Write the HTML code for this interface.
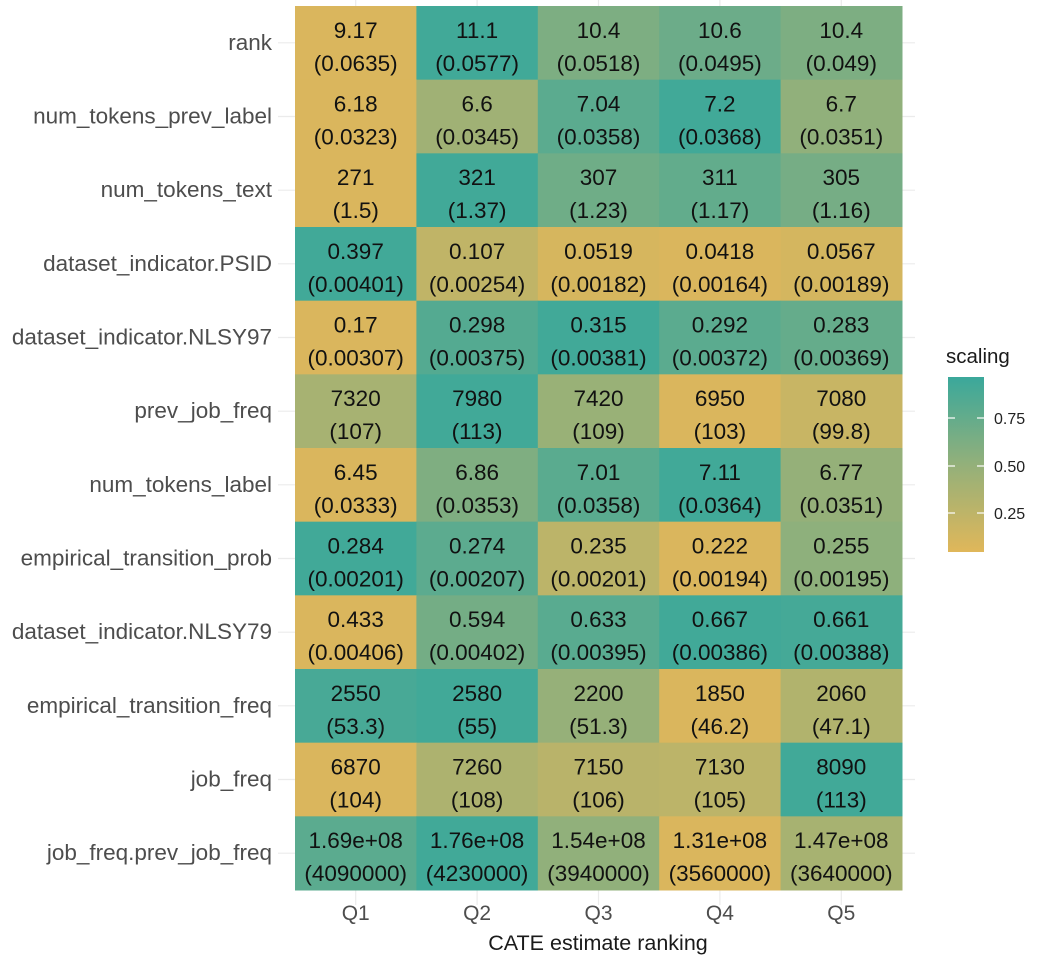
<!DOCTYPE html>
<html><head><meta charset="utf-8"><style>
body{margin:0;background:#fff;font-family:"Liberation Sans",sans-serif}
</style></head><body>
<svg id="c" width="1038" height="964" xmlns="http://www.w3.org/2000/svg" font-family="Liberation Sans, sans-serif">
<defs><linearGradient id="lg" x1="0" y1="1" x2="0" y2="0">
<stop offset="0" stop-color="#e0b75a"/><stop offset="0.5" stop-color="#93b07a"/><stop offset="1" stop-color="#3aa89b"/></linearGradient></defs>
<g id="grid"></g><g id="cells"></g><g id="labels"></g>
<g>
<text x="946" y="363" font-size="20.5" fill="#1a1a1a">scaling</text>
<rect x="948" y="377" width="36" height="175" fill="url(#lg)"/>
<g stroke="#fff" stroke-width="1.2"><line x1="948" x2="955" y1="418" y2="418"/><line x1="977" x2="984" y1="418" y2="418"/><line x1="948" x2="955" y1="466" y2="466"/><line x1="977" x2="984" y1="466" y2="466"/><line x1="948" x2="955" y1="513" y2="513"/><line x1="977" x2="984" y1="513" y2="513"/></g>
<g font-size="16" fill="#222"><text x="994" y="424">0.75</text><text x="994" y="472">0.50</text><text x="994" y="519">0.25</text></g>
</g>
<text x="598" y="950" font-size="21.5" text-anchor="middle" fill="#1a1a1a">CATE estimate ranking</text>
</svg>
<script>
const categories=["Q1","Q2","Q3","Q4","Q5"];
const rowLabels=["rank","num_tokens_prev_label","num_tokens_text","dataset_indicator.PSID","dataset_indicator.NLSY97","prev_job_freq","num_tokens_label","empirical_transition_prob","dataset_indicator.NLSY79","empirical_transition_freq","job_freq","job_freq.prev_job_freq"];
const values=[[9.17,11.1,10.4,10.6,10.4],[6.18,6.6,7.04,7.2,6.7],[271,321,307,311,305],[0.397,0.107,0.0519,0.0418,0.0567],[0.17,0.298,0.315,0.292,0.283],[7320,7980,7420,6950,7080],[6.45,6.86,7.01,7.11,6.77],[0.284,0.274,0.235,0.222,0.255],[0.433,0.594,0.633,0.667,0.661],[2550,2580,2200,1850,2060],[6870,7260,7150,7130,8090],[1.69e8,1.76e8,1.54e8,1.31e8,1.47e8]];
const valueText=[["9.17","11.1","10.4","10.6","10.4"],["6.18","6.6","7.04","7.2","6.7"],["271","321","307","311","305"],["0.397","0.107","0.0519","0.0418","0.0567"],["0.17","0.298","0.315","0.292","0.283"],["7320","7980","7420","6950","7080"],["6.45","6.86","7.01","7.11","6.77"],["0.284","0.274","0.235","0.222","0.255"],["0.433","0.594","0.633","0.667","0.661"],["2550","2580","2200","1850","2060"],["6870","7260","7150","7130","8090"],["1.69e+08","1.76e+08","1.54e+08","1.31e+08","1.47e+08"]];
const seText=[["(0.0635)","(0.0577)","(0.0518)","(0.0495)","(0.049)"],["(0.0323)","(0.0345)","(0.0358)","(0.0368)","(0.0351)"],["(1.5)","(1.37)","(1.23)","(1.17)","(1.16)"],["(0.00401)","(0.00254)","(0.00182)","(0.00164)","(0.00189)"],["(0.00307)","(0.00375)","(0.00381)","(0.00372)","(0.00369)"],["(107)","(113)","(109)","(103)","(99.8)"],["(0.0333)","(0.0353)","(0.0358)","(0.0364)","(0.0351)"],["(0.00201)","(0.00207)","(0.00201)","(0.00194)","(0.00195)"],["(0.00406)","(0.00402)","(0.00395)","(0.00386)","(0.00388)"],["(53.3)","(55)","(51.3)","(46.2)","(47.1)"],["(104)","(108)","(106)","(105)","(113)"],["(4090000)","(4230000)","(3940000)","(3560000)","(3640000)"]];
const NS="http://www.w3.org/2000/svg";
const X0=295,X1=902,Y0=6,Y1=890;
const cw=(X1-X0)/categories.length, rh=(Y1-Y0)/rowLabels.length;
const xPos=i=>X0+i*cw, yPos=j=>Y0+j*rh;
function col(t){const a=[224,183,90],m=[147,176,122],b=[58,168,155];let p,q,s;if(t<0.5){p=a;q=m;s=t*2}else{p=m;q=b;s=(t-0.5)*2}return `rgb(${p.map((v,k)=>Math.round(v+(q[k]-v)*s)).join(",")})`;}
function mk(tag,at,par){const e=document.createElementNS(NS,tag);for(const k in at)e.setAttribute(k,at[k]);par.appendChild(e);return e;}
const grid=document.getElementById('grid'),cells=document.getElementById('cells'),labels=document.getElementById('labels');
rowLabels.forEach((r,j)=>{const y=yPos(j)+rh/2;
 const g=mk('line',{x1:278,x2:915,y1:y,y2:y,stroke:'#ebebeb','stroke-width':1.2},grid);
 
 
 const t=mk('text',{x:272,y:y+7,'font-size':22.5,'text-anchor':'end',fill:'#4d4d4d'},labels);t.textContent=r;
 
 
 const vals=values[j],mn=Math.min(...vals),mx=Math.max(...vals);
 vals.forEach((v,i)=>{const s=mx>mn?(v-mn)/(mx-mn):0.5;
  const rc=mk('rect',{x:xPos(i),y:yPos(j),width:cw+0.5,height:rh+0.5,fill:col(0.04+0.92*s)},cells);
  
  
  const cx=xPos(i)+cw/2;
  const t1=mk('text',{x:cx,y:y-5,'font-size':22.5,'text-anchor':'middle',fill:'#111'},cells);t1.textContent=valueText[j][i];
  
  
  const t2=mk('text',{x:cx,y:y+28,'font-size':22.5,'text-anchor':'middle',fill:'#111'},cells);t2.textContent=seText[j][i];
  
  
 });
});
categories.forEach((c,i)=>{const x=xPos(i)+cw/2;
 const g=mk('line',{x1:x,x2:x,y1:0,y2:905,stroke:'#ebebeb','stroke-width':1.2},grid);
 
 
 const t=mk('text',{x:x,y:920,'font-size':21,'text-anchor':'middle',fill:'#4d4d4d'},labels);t.textContent=c;
 
 
});
</script>
</body></html>
